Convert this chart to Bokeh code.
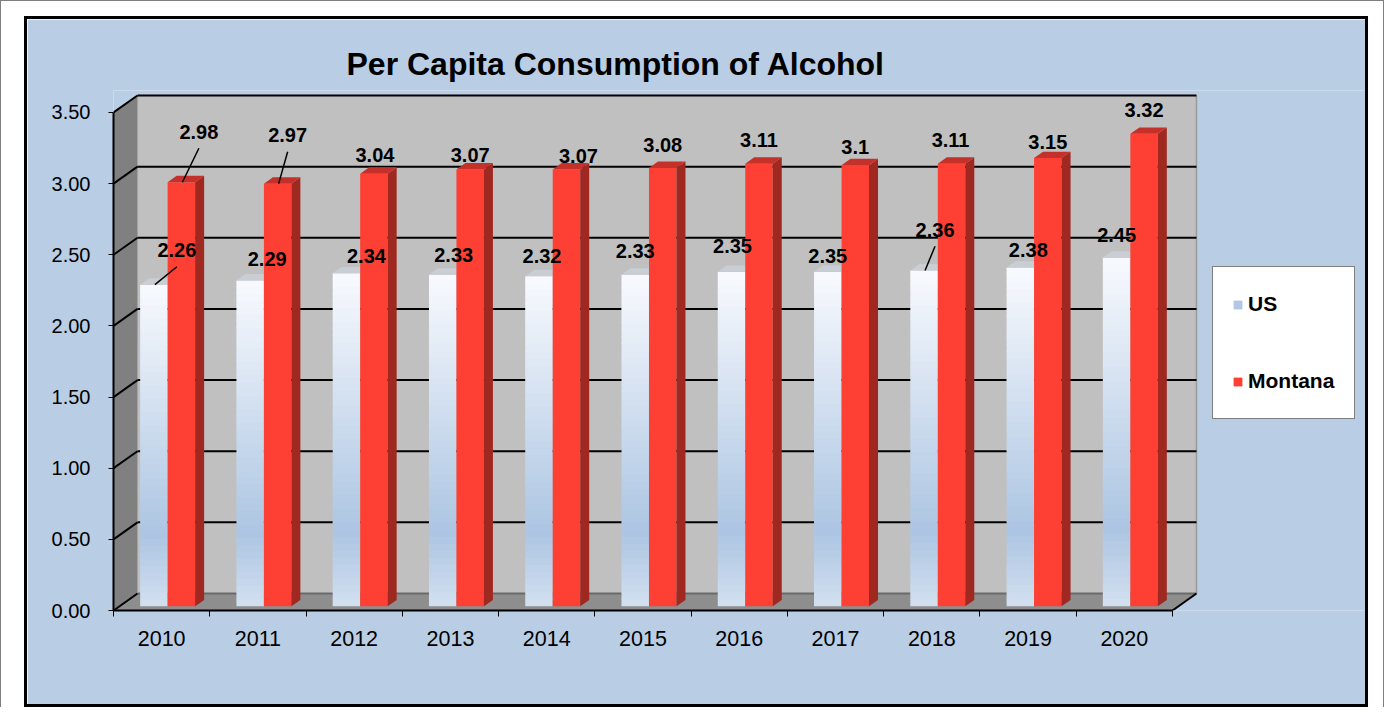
import numpy as np
from bokeh.plotting import figure
from bokeh.models import (ColumnDataSource, FixedTicker, NumeralTickFormatter,
                          Legend, LegendItem, Range1d)
from bokeh.layouts import column
from bokeh.embed import file_html
from bokeh.resources import INLINE
from bokeh.core.properties import value

# ---------------- data ----------------
years = ["2010", "2011", "2012", "2013", "2014", "2015", "2016", "2017", "2018", "2019", "2020"]
us_values = [2.26, 2.29, 2.34, 2.33, 2.32, 2.33, 2.35, 2.35, 2.36, 2.38, 2.45]
montana_values = [2.98, 2.97, 3.04, 3.07, 3.07, 3.08, 3.11, 3.10, 3.11, 3.15, 3.32]
y_ticks = [0.0, 0.5, 1.0, 1.5, 2.0, 2.5, 3.0, 3.5]
series_names = ["US", "Montana"]
chart_title = "Per Capita Consumption of Alcohol"

# ---------------- style / layout constants ----------------
FONT = "Liberation Sans"
BLUE_BG = "#b9cde5"
FIG_W, FIG_H = 1338, 685
MB_LEFT, MB_TOP, MB_BOTTOM = 86, 71, 94
PX_PER_CAT = 96.27
PX_PER_UNIT = 142.29
frame_w = FIG_W - MB_LEFT
frame_h = FIG_H - MB_TOP - MB_BOTTOM
ux = 1.0 / PX_PER_CAT
uy = 1.0 / PX_PER_UNIT
DX, DY = 24 * ux, 17 * uy          # 3-D wall depth
GROUP_START, BAR_W = 0.2145, 0.2855
FRONT, DEPTH = 0.25, 0.375
ox, oy = FRONT * DX, FRONT * DY
bdx, bdy = DEPTH * DX, DEPTH * DY

# label offsets (pixels, right / up) from the front-top centre of each bar
us_label_dx = [23, 17, 20, 11, 3, 0, 1, 0, 11, 8, 0]
us_label_dy = [34.4, 21.2, 17.5, 19.5, 20.4, 24, 25.6, 15.6, 40.7, 17.8, 22.9]
mt_label_dx = [17.5, 10, 1, 0, 12, 0, 0, 0, -1, 0, 0]
mt_label_dy = [50.5, 48.4, 18.4, 14.7, 13.6, 23.2, 24, 17.9, 24, 16.3, 24.1]
us_leader = [1, 0, 0, 0, 0, 0, 0, 0, 1, 0, 0]
mt_leader = [1, 1, 0, 0, 0, 0, 0, 0, 0, 0, 0]

n = len(years)
ymax = y_ticks[-1]

p = figure(width=FIG_W, height=FIG_H,
           x_range=Range1d(0, frame_w / PX_PER_CAT),
           y_range=Range1d(0, frame_h / PX_PER_UNIT),
           output_backend="svg", toolbar_location=None,
           min_border_left=MB_LEFT, min_border_right=0,
           min_border_top=MB_TOP, min_border_bottom=MB_BOTTOM,
           background_fill_color=BLUE_BG, border_fill_color=BLUE_BG,
           outline_line_color=None)
p.xgrid.visible = False
p.ygrid.visible = False

# ---------------- 3-D walls ----------------
p.quad(left=[DX], right=[n + DX], bottom=[DY], top=[ymax + DY],
       fill_color="#c0c0c0", line_color=None)
p.segment(x0=[n + DX], y0=[DY], x1=[n + DX], y1=[ymax + DY],
          line_color="#9a9a9a", line_width=1.5)
p.patch(x=[0, 0, DX, DX], y=[0, ymax, ymax + DY, DY],
        fill_color="#808080", line_color=None)
p.patch(x=[0, n, n + DX, DX], y=[0, 0, DY, DY],
        fill_color="#8e8e8e", line_color=None)
grid_vals = [t for t in y_ticks if t > 0]
p.segment(x0=[DX] * len(grid_vals), y0=[t + DY for t in grid_vals],
          x1=[n + DX] * len(grid_vals), y1=[t + DY for t in grid_vals],
          line_color="black", line_width=2)
p.segment(x0=[DX], y0=[DY], x1=[n + DX], y1=[DY], line_color="#6a6a6a", line_width=2)
p.segment(x0=[0] * len(y_ticks), y0=y_ticks, x1=[DX] * len(y_ticks),
          y1=[t + DY for t in y_ticks], line_color="black", line_width=2)
p.segment(x0=[n], y0=[0], x1=[n + DX], y1=[DY], line_color="black", line_width=2)

# ---------------- bars ----------------
idx = np.arange(n)
us_left = idx + GROUP_START + ox
us_right = us_left + BAR_W
mt_left = us_right
mt_right = mt_left + BAR_W
mt_arr = np.array(montana_values)

# US bars: vertical gradient fill (drawn as thin bands)
stops = [(0.0, (211, 224, 240)), (0.22, (172, 197, 226)), (1.0, (248, 250, 254))]
def grad(f):
    for (f0, c0), (f1, c1) in zip(stops[:-1], stops[1:]):
        if f <= f1:
            t = (f - f0) / (f1 - f0)
            c = [int(round(a + (b - a) * t)) for a, b in zip(c0, c1)]
            return "#%02x%02x%02x" % tuple(c)
    return "#%02x%02x%02x" % stops[-1][1]

NB = 48
g = dict(left=[], right=[], bottom=[], top=[], color=[])
for i, v in enumerate(us_values):
    for k in range(NB):
        f0, f1 = k / NB, (k + 1) / NB
        g["left"].append(us_left[i]); g["right"].append(us_right[i])
        g["bottom"].append(oy + v * f0)
        g["top"].append(oy + min(v, v * f1 + 0.8 * uy))
        g["color"].append(grad((f0 + f1) / 2))
r_us = p.quad(left="left", right="right", bottom="bottom", top="top",
              fill_color="color", line_color=None, source=ColumnDataSource(g))
p.patches(xs=[[l, r, r + bdx, l + bdx] for l, r in zip(us_left, us_right)],
          ys=[[v + oy, v + oy, v + oy + bdy, v + oy + bdy] for v in us_values],
          fill_color="#c9ced5", line_color=None)

r_mt = p.quad(left=mt_left, right=mt_right, bottom=[oy] * n, top=mt_arr + oy,
              fill_color="#fd4033", line_color=None)
p.patches(xs=[[r, r + bdx, r + bdx, r] for r in mt_right],
          ys=[[oy, oy + bdy, v + oy + bdy, v + oy] for v in montana_values],
          fill_color="#9f2821", line_color=None)
p.patches(xs=[[l, r, r + bdx, l + bdx] for l, r in zip(mt_left, mt_right)],
          ys=[[v + oy, v + oy, v + oy + bdy, v + oy + bdy] for v in montana_values],
          fill_color="#c4302a", line_color=None)

# ---------------- data labels ----------------
def fmt(v):
    return f"{v:g}"

us_cx = (us_left + us_right) / 2
mt_cx = (mt_left + mt_right) / 2
lab_x, lab_y, lab_t = [], [], []
ld = dict(x0=[], y0=[], x1=[], y1=[])
for cx, vals, dxs, dys, lead in [(us_cx, us_values, us_label_dx, us_label_dy, us_leader),
                                 (mt_cx, montana_values, mt_label_dx, mt_label_dy, mt_leader)]:
    for i, v in enumerate(vals):
        lx = cx[i] + dxs[i] * ux
        ly = v + oy + dys[i] * uy
        lab_x.append(lx); lab_y.append(ly); lab_t.append(fmt(v))
        if lead[i]:
            ld["x0"].append(lx); ld["y0"].append(ly - 16.5 * uy)
            ld["x1"].append(cx[i] + 1 * ux); ld["y1"].append(v + oy)
p.segment(x0="x0", y0="y0", x1="x1", y1="y1", source=ColumnDataSource(ld),
          line_color="black", line_width=1.5)
p.text(x=lab_x, y=lab_y, text=lab_t, text_align="center", text_baseline="middle",
       text_font=value(FONT), text_font_style="bold", text_font_size="20px",
       text_color="black")

# ---------------- axes ----------------
yax = p.yaxis[0]
yax.ticker = FixedTicker(ticks=y_ticks)
yax.formatter = NumeralTickFormatter(format="0.00")
yax.bounds = (0, ymax)
yax.axis_line_width = 2
yax.axis_line_color = "black"
yax.major_tick_out = 5
yax.major_tick_in = 0
yax.major_tick_line_color = "black"
yax.minor_tick_line_color = None
yax.major_label_text_font = FONT
yax.major_label_text_font_size = "20px"
yax.major_label_text_color = "black"
yax.major_label_standoff = 18

xax = p.xaxis[0]
centers = [i + 0.5 for i in range(n)]
xax.ticker = FixedTicker(ticks=centers, minor_ticks=list(range(n + 1)))
xax.major_label_overrides = {c: y for c, y in zip(centers, years)}
xax.bounds = (0, n)
xax.axis_line_width = 2
xax.axis_line_color = "black"
xax.major_tick_out = 0
xax.major_tick_in = 0
xax.minor_tick_out = 6
xax.minor_tick_in = 0
xax.minor_tick_line_color = "black"
xax.major_label_text_font = FONT
xax.major_label_text_font_size = "21.5px"
xax.major_label_text_color = "black"
xax.major_label_standoff = 14

# ---------------- title ----------------
p.title.text = chart_title
p.title.text_font = FONT
p.title.text_font_size = "32px"
p.title.text_font_style = "bold"
p.title.text_color = "black"
p.title.align = "left"
p.title.offset = 233
p.title.standoff = 18

# ---------------- legend ----------------
legend = Legend(items=[LegendItem(label=series_names[0], renderers=[r_us], index=12),
                       LegendItem(label=series_names[1], renderers=[r_mt])],
                location=(1099, 191), orientation="vertical",
                border_line_color="black", border_line_width=1,
                background_fill_color="white", background_fill_alpha=1.0,
                padding=19, spacing=41, margin=0,
                label_height=36, label_width=87, glyph_height=11, glyph_width=11,
                label_standoff=5, label_text_font=FONT, label_text_font_size="21px",
                label_text_font_style="bold", label_text_color="black")
p.add_layout(legend)

inner = column(p, styles={"border": "3px solid black"})
root = column(inner, styles={"border-left": "1px solid #7f7f7f",
                             "border-top": "1px solid #7f7f7f",
                             "border-right": "1px solid #7f7f7f",
                             "background-color": "white",
                             "padding": "15px 15px 0px 23px"})

open("out.html", "w").write(file_html(root, INLINE))
